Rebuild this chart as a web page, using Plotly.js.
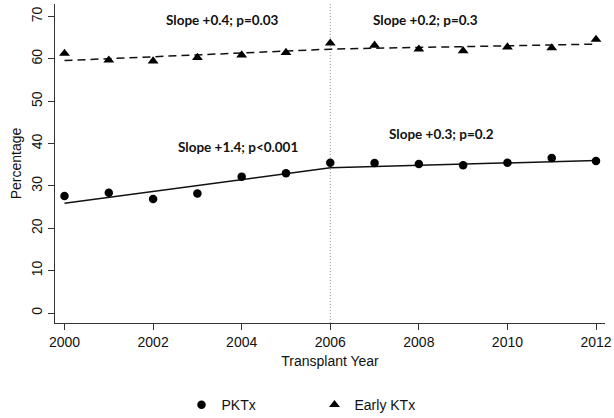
<!DOCTYPE html>
<html>
<head>
<meta charset="utf-8">
<script src="https://cdn.plot.ly/plotly-3.0.1.min.js"></script>
<style>html,body{margin:0;padding:0;background:#fff;}#chart{width:614px;height:418px;}</style>
</head>
<body>
<div id="chart"></div>
<script>
// Data
const years = [2000, 2001, 2002, 2003, 2004, 2005, 2006, 2007, 2008, 2009, 2010, 2011, 2012];
const pktx = [27.6, 28.4, 26.9, 28.2, 32.2, 33.0, 35.5, 35.4, 35.2, 34.9, 35.5, 36.6, 35.9];
const earlyKtx = [61.3, 59.7, 59.5, 60.3, 60.9, 61.5, 63.7, 63.2, 62.3, 61.9, 62.8, 62.6, 64.6];
const fitYears = [2000, 2006, 2012];
const pktxFit = [25.9, 34.3, 36.0];
const earlyFit = [59.6, 62.3, 63.5];
const breakYear = 2006;
const slopeLabels = ["Slope +0.4; p=0.03", "Slope +0.2; p=0.3", "Slope +1.4; p<0.001", "Slope +0.3; p=0.2"];
const slopeX = [2003.57, 2008.16, 2003.92, 2008.51];
const slopeY = [69.1, 69.1, 39.1, 42.2];
const xTicks = [2000, 2002, 2004, 2006, 2008, 2010, 2012];
const yTicks = [0, 10, 20, 30, 40, 50, 60, 70];

const axisFont = {family: 'Liberation Sans, Arial, sans-serif', size: 14, color: '#111'};

const traces = [
  {x: fitYears, y: earlyFit, mode: 'lines', line: {color: '#111', width: 1.5, dash: '8px,5px'}, showlegend: false, hoverinfo: 'skip'},
  {x: fitYears, y: pktxFit, mode: 'lines', line: {color: '#111', width: 1.5}, showlegend: false, hoverinfo: 'skip'},
  {x: years, y: pktx, mode: 'markers', name: 'PKTx', marker: {symbol: 'circle', size: 8.5, color: '#000'}},
  {x: years, y: earlyKtx, mode: 'markers', name: 'Early KTx', marker: {symbol: 'triangle-up', size: 9.5, color: '#000'}}
];

const annotations = slopeLabels.map((t, i) => ({
  x: slopeX[i], y: slopeY[i], xref: 'x', yref: 'y', text: '<b>' + t + '</b>', showarrow: false,
  font: {family: 'Lato, sans-serif', size: 13.5, color: '#111'}, xanchor: 'center', yanchor: 'middle'
}));

const layout = {
  width: 614, height: 418,
  margin: {l: 55, r: 9, t: 4, b: 95, pad: 0, autoexpand: false},
  paper_bgcolor: '#fff', plot_bgcolor: '#fff',
  showlegend: true,
  font: axisFont,
  xaxis: {
    range: [1999.785, 2012.203], tickvals: xTicks, ticktext: xTicks.map(String),
    showgrid: false, zeroline: false, showline: true, linecolor: '#333', linewidth: 1,
    ticks: 'outside', ticklen: 6, tickcolor: '#333', tickwidth: 1, tickfont: axisFont,
    title: {text: 'Transplant Year', font: axisFont, standoff: 7}
  },
  yaxis: {
    range: [-2.36, 72.96], tickvals: yTicks, ticktext: yTicks.map(String),
    showgrid: false, zeroline: false, showline: true, linecolor: '#333', linewidth: 1,
    ticks: 'outside', ticklen: 6, tickcolor: '#333', tickwidth: 1, tickangle: -90, tickfont: axisFont,
    title: {text: 'Percentage', font: axisFont, standoff: 4}
  },
  shapes: [{type: 'line', xref: 'x', yref: 'paper', x0: breakYear, x1: breakYear, y0: 0, y1: 1,
    line: {color: '#999', width: 1, dash: '1px,2px'}, layer: 'below'}],
  annotations: annotations,
  legend: {orientation: 'h', x: 0.23, xanchor: 'left', yref: 'container', y: 0.031, yanchor: 'middle',
    font: axisFont, entrywidth: 88, entrywidthmode: 'pixels', bgcolor: 'rgba(0,0,0,0)'}
};

Plotly.newPlot('chart', traces, layout, {staticPlot: true, displayModeBar: false});
</script>
</body>
</html>
